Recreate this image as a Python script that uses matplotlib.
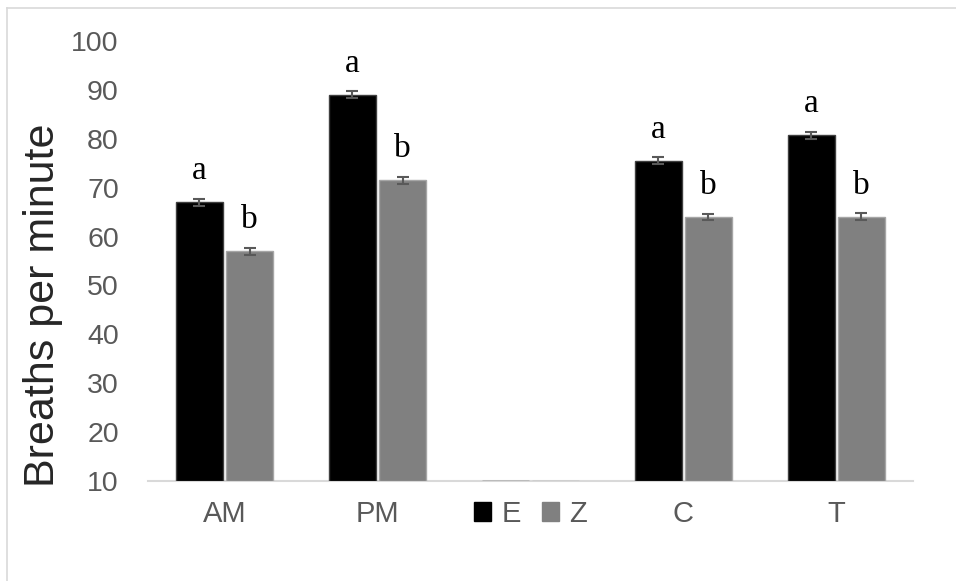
import numpy as np
import matplotlib.pyplot as plt
from matplotlib.lines import Line2D
from matplotlib.patches import Patch

categories = ['AM', 'PM', '', 'C', 'T']
e_values = [67.0, 89.0, 10.0, 75.5, 80.7]
z_values = [57.0, 71.5, 10.0, 64.0, 64.1]
e_err = [0.7, 0.7, 0.0, 0.7, 0.7]
z_err = [0.7, 0.7, 0.0, 0.7, 0.7]
e_letters = ['a', 'a', '', 'a', 'a']
z_letters = ['b', 'b', '', 'b', 'b']
yticks = [10, 20, 30, 40, 50, 60, 70, 80, 90, 100]

plt.rcParams['font.family'] = ['Liberation Sans', 'DejaVu Sans']

fig = plt.figure(figsize=(9.56, 5.81), dpi=100)
ax = fig.add_axes([0.1548, 0.1721, 0.8002, 0.7573])

x = np.arange(len(categories))
w = 0.307
off = w / 2 + 0.01
base = 10

ax.bar(x - off, np.array(e_values) - base, w, bottom=base, color='black',
       edgecolor='#404040', linewidth=1.0, label='E', zorder=2)
ax.bar(x + off, np.array(z_values) - base, w, bottom=base, color='#808080',
       edgecolor='#a6a6a6', linewidth=1.0, label='Z', zorder=2)

for i in range(len(categories)):
    if e_err[i] > 0:
        ax.errorbar(x[i] - off, e_values[i], yerr=e_err[i], fmt='none', ecolor='#595959',
                    elinewidth=1.5, capsize=4.5, capthick=1.5, zorder=3)
    if z_err[i] > 0:
        ax.errorbar(x[i] + off, z_values[i], yerr=z_err[i], fmt='none', ecolor='#595959',
                    elinewidth=1.5, capsize=4.5, capthick=1.5, zorder=3)
    ax.annotate(e_letters[i], (x[i] - off, e_values[i] + e_err[i]), xytext=(0, 9),
                textcoords='offset points', ha='center', va='bottom',
                fontsize=24, family='Liberation Serif')
    ax.annotate(z_letters[i], (x[i] + off, z_values[i] + z_err[i]), xytext=(0, 9),
                textcoords='offset points', ha='center', va='bottom',
                fontsize=24, family='Liberation Serif')

ax.set_xlim(-0.5, len(categories) - 0.5)
ax.set_ylim(10, 100)
ax.set_yticks(yticks)
ax.set_xticks(x)
ax.set_xticklabels(categories)
ax.tick_params(axis='both', length=0, colors='#595959')
ax.tick_params(axis='y', labelsize=20.5, pad=21)
ax.tick_params(axis='x', labelsize=21, pad=14)

for s in ['left', 'right', 'top']:
    ax.spines[s].set_visible(False)
ax.spines['bottom'].set_color('#d9d9d9')
ax.spines['bottom'].set_linewidth(1.5)
ax.spines['bottom'].set_zorder(1)

ax.set_ylabel('Breaths per minute', fontsize=31, color='#262626')
ax.yaxis.set_label_coords(-0.111, 0.40)

handles = [Patch(facecolor='black', edgecolor='black'), Patch(facecolor='#808080', edgecolor='#808080')]
leg = ax.legend(handles, ['E', 'Z'], loc='center', bbox_to_anchor=(0.5, -0.075), ncol=2,
                frameon=False, fontsize=21, handlelength=0.6, handleheight=0.6,
                handletextpad=0.35, columnspacing=0.7, borderaxespad=0)
for t in leg.get_texts():
    t.set_color('#595959')

fig.add_artist(Line2D([0.0068, 1.0], [1 - 8 / 581, 1 - 8 / 581], color='#d9d9d9', lw=1.2))
fig.add_artist(Line2D([0.0068, 0.0068], [0, 1 - 8 / 581], color='#d9d9d9', lw=1.2))

fig.savefig('out.png', dpi=100)
